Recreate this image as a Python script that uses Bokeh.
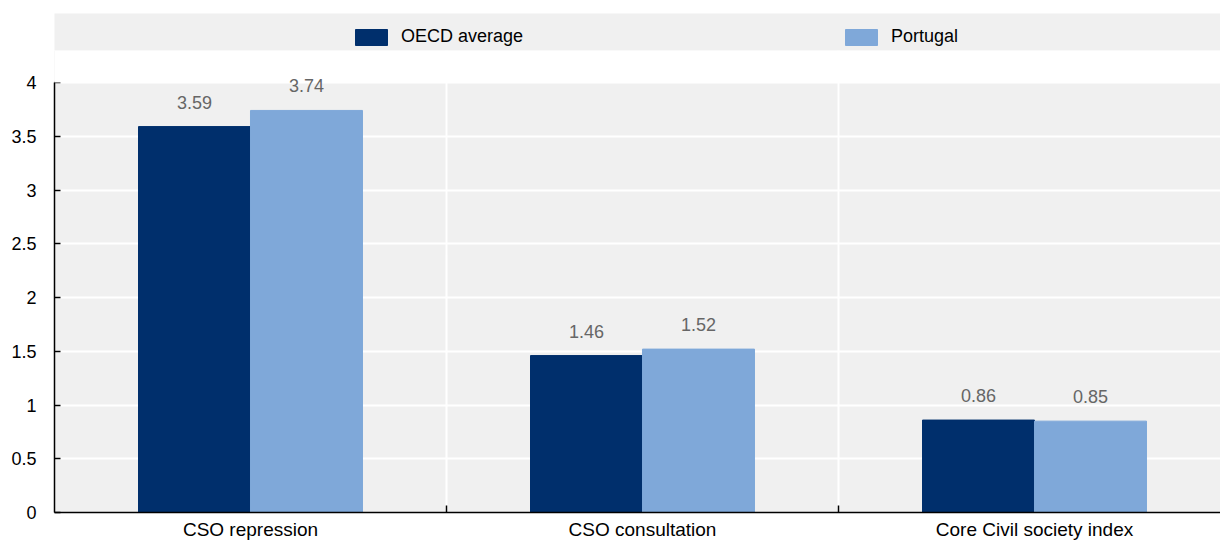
from bokeh.plotting import figure
from bokeh.layouts import column
from bokeh.models import (BoxAnnotation, ColumnDataSource, FixedTicker,
                          LabelSet, Legend, LegendItem, Range1d)
from bokeh.core.properties import value
from bokeh.embed import file_html
from bokeh.resources import INLINE

# Data
categories = ["CSO repression", "CSO consultation", "Core Civil society index"]
oecd_average = [3.59, 1.46, 0.86]
portugal = [3.74, 1.52, 0.85]
series_names = ["OECD average", "Portugal"]
y_ticks = [0, 0.5, 1, 1.5, 2, 2.5, 3, 3.5, 4]
y_max = 4

DARK = "#002F6C"
LIGHT = "#7FA8D9"
PANEL = "#F0F0F0"
FONT = "Liberation Sans"

centers = [i + 0.5 for i in range(len(categories))]
bar_w = 0.2857
src_oecd = ColumnDataSource(dict(
    x=[c - bar_w / 2 for c in centers], top=oecd_average,
    label=[f"{v:.2f}" for v in oecd_average]))
src_pt = ColumnDataSource(dict(
    x=[c + bar_w / 2 for c in centers], top=portugal,
    label=[f"{v:.2f}" for v in portugal]))

# Main chart; the frame reaches a little above y_max so the value labels
# have room, and that strip is painted white
p = figure(width=1220, height=492, output_backend="svg", toolbar_location=None,
           x_range=Range1d(0, 2.9745), y_range=Range1d(0, y_max * 462 / 430),
           min_border_left=54, min_border_right=0, min_border_top=0,
           min_border_bottom=30)
p.background_fill_color = PANEL
p.border_fill_color = "white"
p.outline_line_color = None

p.vbar(x="x", top="top", width=bar_w, source=src_oecd, color=DARK)
p.vbar(x="x", top="top", width=bar_w, source=src_pt, color=LIGHT)

p.add_layout(BoxAnnotation(bottom=y_max, fill_color="white", fill_alpha=1,
                           line_color=None))

for src in (src_oecd, src_pt):
    p.add_layout(LabelSet(x="x", y="top", text="label", source=src,
                          text_align="center", text_baseline="alphabetic",
                          y_offset=18, text_font=value(FONT),
                          text_font_size="18px", text_color="#666666"))

# Grid
p.ygrid.ticker = FixedTicker(ticks=y_ticks)
p.ygrid.grid_line_color = "white"
p.ygrid.grid_line_width = 2
p.xgrid.ticker = FixedTicker(ticks=[1, 2])
p.xgrid.grid_line_color = "white"
p.xgrid.grid_line_width = 2

# Y axis
p.yaxis.ticker = FixedTicker(ticks=y_ticks)
p.yaxis.bounds = (0, y_max)
p.yaxis.major_label_overrides = {t: f"{t:g}" for t in y_ticks}
p.yaxis.axis_line_color = "black"
p.yaxis.axis_line_width = 1.5
p.yaxis.major_tick_in = 6
p.yaxis.major_tick_out = 0
p.yaxis.major_tick_line_width = 1.5
p.yaxis.minor_tick_line_color = None
p.yaxis.minor_tick_out = 0
p.yaxis.major_label_standoff = 18
p.yaxis.major_label_text_font = FONT
p.yaxis.major_label_text_font_size = "18px"
p.yaxis.major_label_text_color = "black"

# X axis: labels at category centres, tick marks at category boundaries
p.xaxis.ticker = FixedTicker(ticks=centers, minor_ticks=[1, 2])
p.xaxis.major_label_overrides = {c: name for c, name in zip(centers, categories)}
p.xaxis.axis_line_color = "black"
p.xaxis.axis_line_width = 1.5
p.xaxis.major_tick_line_color = None
p.xaxis.major_tick_in = 0
p.xaxis.major_tick_out = 0
p.xaxis.minor_tick_line_color = "black"
p.xaxis.minor_tick_line_width = 1.5
p.xaxis.minor_tick_in = 7
p.xaxis.minor_tick_out = 0
p.xaxis.major_label_standoff = 6
p.xaxis.major_label_text_font = FONT
p.xaxis.major_label_text_font_size = "19px"
p.xaxis.major_label_text_color = "black"

# Legend band (its renderers sit outside the band's visible y range)
lg = figure(width=1220, height=50, output_backend="svg", toolbar_location=None,
            x_range=Range1d(0, 1), y_range=Range1d(100, 101),
            min_border_left=54, min_border_right=0, min_border_top=13,
            min_border_bottom=0)
lg.background_fill_color = PANEL
lg.border_fill_color = "white"
lg.outline_line_color = None
lg.axis.visible = False
lg.grid.visible = False

r_dark = lg.vbar(x="x", top="top", width=bar_w, source=src_oecd, color=DARK)
r_light = lg.vbar(x="x", top="top", width=bar_w, source=src_pt, color=LIGHT)

legend = Legend(items=[LegendItem(label=series_names[0], renderers=[r_dark]),
                       LegendItem(label=series_names[1], renderers=[r_light])],
                orientation="horizontal", location=(297, 1),
                glyph_width=40, glyph_height=20, label_standoff=10,
                label_width=440, label_height=25, spacing=0, padding=0,
                margin=0, border_line_color=None, background_fill_alpha=0,
                label_text_font=FONT, label_text_font_size="18px",
                label_text_color="black")
lg.add_layout(legend)

layout = column(lg, p, spacing=0)

open("out.html", "w").write(file_html(layout, INLINE))
